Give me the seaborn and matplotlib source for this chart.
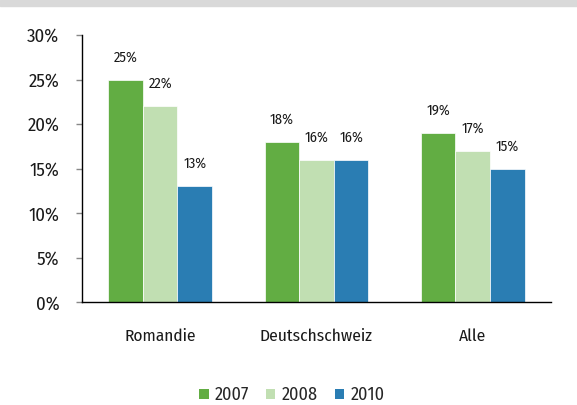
import numpy as np
import pandas as pd
import matplotlib
matplotlib.use("Agg")
import matplotlib.pyplot as plt
import seaborn as sns
from matplotlib.patches import Patch, Rectangle

# ── data ─────────────────────────────────────────────────────────────
regions = ["Romandie", "Deutschschweiz", "Alle"]
years = ["2007", "2008", "2010"]
share_2007 = [25, 18, 19]
share_2008 = [22, 16, 17]
share_2010 = [13, 16, 15]
yticks = [0, 5, 10, 15, 20, 25, 30]

colors = ["#62AD43", "#C1DFB2", "#2A7DB3"]

df = pd.DataFrame({
    "region": regions * 3,
    "year": [y for y in years for _ in regions],
    "share": share_2007 + share_2008 + share_2010,
})

sns.set_style("white")
plt.rcParams["font.family"] = ["Fira Sans Condensed", "DejaVu Sans"]

fig = plt.figure(figsize=(5.77, 4.05), dpi=100)
ax = fig.add_axes([0.1421, 0.2536, 0.8128, 0.66])

# gray band at the top
fig.patches.append(Rectangle((0, 0.986), 1, 0.014, transform=fig.transFigure,
                             color="#D9D9D9", zorder=0))

sns.barplot(data=df, x="region", y="share", hue="year", order=regions,
            hue_order=years, palette=colors, width=0.665, saturation=1,
            edgecolor="white", linewidth=0.5, legend=False, ax=ax)

for cont in ax.containers:
    ax.bar_label(cont, labels=[f"{v:.0f}%" for v in cont.datavalues],
                 padding=11, fontsize=10.5, color="#1A1A1A")

ax.set_xlim(-0.5, 2.5)
ax.set_ylim(0, 30)
ax.set_yticks(yticks)
ax.set_yticklabels([f"{v}%" for v in yticks], fontsize=13.5, color="#1A1A1A")
ax.set_xticks([0, 1, 2])
ax.set_xticklabels(regions, fontsize=12.5, color="#1A1A1A")
ax.set_xticks([-0.5, 0.5, 1.5, 2.5], minor=True)
ax.tick_params(axis="x", which="major", length=0, pad=18.5)
ax.tick_params(axis="x", which="minor", length=3.6, direction="out",
               color="#888888", width=1)
ax.tick_params(axis="y", length=4.3, direction="out", color="#888888",
               width=1, pad=12, left=True)
ax.set_xlabel("")
ax.set_ylabel("")

for side in ["top", "right"]:
    ax.spines[side].set_visible(False)
for side in ["left", "bottom"]:
    ax.spines[side].set_color("black")
    ax.spines[side].set_linewidth(1)

handles = [Patch(facecolor=c, edgecolor="none", label=y) for c, y in zip(colors, years)]
fig.legend(handles=handles, loc="center", bbox_to_anchor=(0.506, 0.025),
           ncol=3, frameon=False, fontsize=13, handlelength=0.5,
           handleheight=0.5, handletextpad=0.35, columnspacing=0.95)

fig.savefig("out.png", dpi=100)
